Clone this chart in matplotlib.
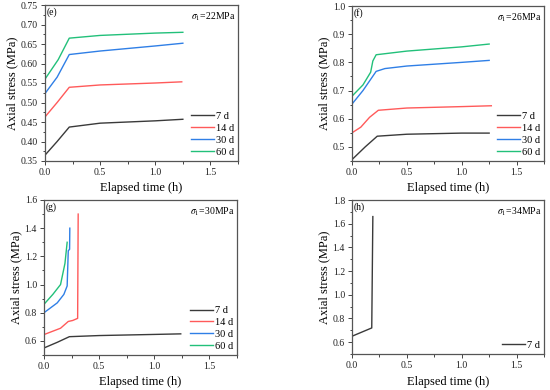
import numpy as np
import matplotlib.pyplot as plt
from matplotlib.ticker import AutoMinorLocator

plt.rcParams['font.family'] = ['Liberation Serif', 'DejaVu Serif']
plt.rcParams['mathtext.fontset'] = 'stix'

# ---- data ----
ages = ['7 d', '14 d', '30 d', '60 d']
colors = ['#3a3a3a', '#ff5a5a', '#2f7fe6', '#22c07a']

# (e) sigma1 = 22 MPa
e_t = [[0, 0.11, 0.22, 0.5, 1.0, 1.25],
       [0, 0.11, 0.22, 0.5, 1.0, 1.24],
       [0, 0.11, 0.22, 0.5, 1.0, 1.25],
       [0, 0.12, 0.22, 0.5, 1.0, 1.25]]
e_y = [[0.365, 0.40, 0.437, 0.447, 0.453, 0.457],
       [0.463, 0.50, 0.539, 0.545, 0.550, 0.553],
       [0.523, 0.565, 0.623, 0.632, 0.645, 0.652],
       [0.560, 0.610, 0.665, 0.672, 0.678, 0.680]]

# (f) sigma1 = 26 MPa
f_t = [[0, 0.12, 0.23, 0.5, 1.0, 1.25],
       [0, 0.08, 0.16, 0.24, 0.5, 1.0, 1.27],
       [0, 0.1, 0.22, 0.3, 0.5, 1.0, 1.25],
       [0, 0.1, 0.17, 0.19, 0.22, 0.5, 1.0, 1.25]]
f_y = [[0.455, 0.50, 0.538, 0.545, 0.549, 0.549],
       [0.550, 0.570, 0.605, 0.630, 0.638, 0.643, 0.646],
       [0.652, 0.700, 0.768, 0.778, 0.787, 0.800, 0.807],
       [0.680, 0.720, 0.765, 0.805, 0.827, 0.840, 0.855, 0.865]]

# (g) sigma1 = 30 MPa
g_t = [[0, 0.12, 0.23, 0.5, 1.0, 1.24],
       [0, 0.15, 0.22, 0.26, 0.305, 0.31],
       [0, 0.12, 0.18, 0.21, 0.22, 0.232, 0.234],
       [0, 0.08, 0.15, 0.19, 0.21]]
g_y = [[0.55, 0.59, 0.63, 0.638, 0.646, 0.650],
       [0.645, 0.690, 0.738, 0.745, 0.760, 1.50],
       [0.80, 0.870, 0.930, 0.990, 1.240, 1.250, 1.400],
       [0.86, 0.93, 1.00, 1.15, 1.30]]

# (h) sigma1 = 34 MPa
h_t = [[0, 0.18, 0.19]]
h_y = [[0.65, 0.72, 1.66]]

panels = [
    ('(e)', '22', e_t, e_y, (0.35, 0.75), np.arange(0.35, 0.751, 0.05), '%.2f'),
    ('(f)', '26', f_t, f_y, (0.45, 1.0), np.arange(0.5, 1.01, 0.1), '%.1f'),
    ('(g)', '30', g_t, g_y, (0.5, 1.6), np.arange(0.6, 1.61, 0.2), '%.1f'),
    ('(h)', '34', h_t, h_y, (0.5, 1.8), np.arange(0.6, 1.81, 0.2), '%.1f'),
]
boxes = [(45, 5, 238, 161), (352, 6, 544, 161), (44, 200, 237, 355), (352, 200, 544, 354)]

W, H = 550, 390
fig = plt.figure(figsize=(5.5, 3.9), dpi=100)

for (lab, sig, ts, ys, ylim, yt, fmt), (x0, y0, x1, y1) in zip(panels, boxes):
    ax = fig.add_axes([x0 / W, 1 - y1 / H, (x1 - x0) / W, (y1 - y0) / H])
    for i in range(len(ts)):
        ax.plot(ts[i], ys[i], color=colors[i], lw=1.0, label=ages[i])
    ax.set_xlim(0, 1.75)
    ax.set_ylim(*ylim)
    ax.set_xticks([0, 0.5, 1.0, 1.5])
    ax.set_yticks(yt)
    ax.yaxis.set_major_formatter(plt.FormatStrFormatter(fmt))
    ax.xaxis.set_major_formatter(plt.FormatStrFormatter('%.1f'))
    ax.xaxis.set_minor_locator(AutoMinorLocator(2))
    ax.yaxis.set_minor_locator(AutoMinorLocator(2))
    ax.tick_params(which='both', direction='out', labelsize=7, colors='#444444',
                   labelcolor='#222222', width=0.7, pad=2)
    ax.tick_params(which='major', length=3)
    ax.tick_params(which='minor', length=1.8)
    for s in ax.spines.values():
        s.set_color('#555555')
        s.set_linewidth(0.9)
    ax.set_xlabel('Elapsed time (h)', fontsize=9, labelpad=4)
    ax.set_ylabel('Axial stress (MPa)', fontsize=9, labelpad=2)
    ax.text(0.01, 0.985, lab, transform=ax.transAxes, ha='left', va='top', fontsize=7)
    ax.text(0.985, 0.965, r'$\sigma_1$=' + sig + 'MPa', transform=ax.transAxes,
            ha='right', va='top', fontsize=7)
    ax.legend(loc='lower right', frameon=False, fontsize=7.5, handlelength=2.2,
              handletextpad=0.2, labelspacing=0.25, borderaxespad=0.0)

fig.savefig('out.png', dpi=100)
